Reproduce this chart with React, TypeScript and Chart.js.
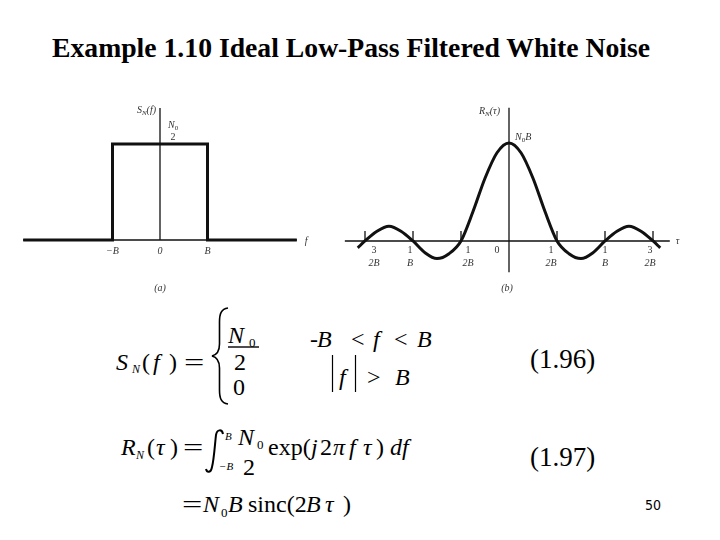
import React, { useEffect, useRef } from "react";
import { Chart, registerables } from "chart.js";
Chart.register(...registerables);

// ---------- data ----------
const LEFT_F = [-2.88, -1, -1, 1, 1, 2.88];
const LEFT_S = [0, 0, 1, 1, 0, 0];
const LEFT_TICKS = [-1, 0, 1];
const LEFT_TICK_LABELS = ["\u2212B", "0", "B"];

const RIGHT_TAU = [-3.15, -3, -2.75, -2.5, -2.25, -2, -1.75, -1.5, -1.25, -1, -0.75, -0.5, -0.25, 0, 0.25, 0.5, 0.75, 1, 1.25, 1.5, 1.75, 2, 2.25, 2.5, 2.75, 3, 3.15];
const RIGHT_R = [-0.07, 0, 0.1, 0.15, 0.1, 0, -0.12, -0.18, -0.13, 0, 0.3, 0.64, 0.9, 1, 0.9, 0.64, 0.3, 0, -0.13, -0.18, -0.12, 0, 0.1, 0.15, 0.1, 0, -0.07];
const RIGHT_TICKS = [-3, -2, -1, 1, 2, 3];
const RIGHT_TICK_NUM = ["3", "1", "1", "1", "1", "3"];
const RIGHT_TICK_DEN = ["2B", "B", "2B", "2B", "B", "2B"];

// ---------- styles ----------
const SERIF = '"Liberation Serif", "Times New Roman", serif';
const LABEL_NUDGE = [9, -3, 7, -6, 0, -3];
const INK = "#111";
const LBL = "#333";

type Part = { t: string; size: number; italic?: boolean; dy?: number };

function drawRich(ctx: CanvasRenderingContext2D, parts: Part[], x: number, y: number, align: "left" | "center" | "right") {
  let total = 0;
  const widths = parts.map((p) => {
    ctx.font = `${p.italic ? "italic " : ""}${p.size}px ${SERIF}`;
    const w = ctx.measureText(p.t).width;
    total += w;
    return w;
  });
  let cx = align === "left" ? x : align === "center" ? x - total / 2 : x - total;
  ctx.textAlign = "left";
  ctx.textBaseline = "alphabetic";
  parts.forEach((p, i) => {
    ctx.font = `${p.italic ? "italic " : ""}${p.size}px ${SERIF}`;
    ctx.fillText(p.t, cx, y + (p.dy || 0));
    cx += widths[i];
  });
}

const leftDecor = {
  id: "leftDecor",
  beforeDatasetsDraw(chart: any) {
    const { ctx, scales } = chart;
    const xs = scales.x, ys = scales.y;
    const x0 = xs.getPixelForValue(0), y0 = ys.getPixelForValue(0);
    ctx.save();
    ctx.strokeStyle = INK;
    ctx.lineWidth = 1.3;
    ctx.beginPath();
    ctx.moveTo(xs.getPixelForValue(LEFT_F[0]), y0);
    ctx.lineTo(xs.getPixelForValue(LEFT_F[LEFT_F.length - 1]), y0);
    ctx.moveTo(x0, y0);
    ctx.lineTo(x0, ys.getPixelForValue(ys.max));
    ctx.stroke();
    ctx.restore();
  },
  afterDatasetsDraw(chart: any) {
    const { ctx, scales } = chart;
    const xs = scales.x, ys = scales.y;
    const x0 = xs.getPixelForValue(0), y0 = ys.getPixelForValue(0);
    const yTop = ys.getPixelForValue(1);
    ctx.save();
    ctx.fillStyle = LBL;
    drawRich(ctx, [{ t: "S", size: 10, italic: true }, { t: "N", size: 7, italic: true, dy: 2 }, { t: "(f)", size: 10, italic: true }], x0 - 4, y0 - 127, "right");
    drawRich(ctx, [{ t: "N", size: 10, italic: true }, { t: "0", size: 7, dy: 2 }], x0 + 8, yTop - 16, "left");
    drawRich(ctx, [{ t: "2", size: 10 }], x0 + 13, yTop - 4, "center");
    LEFT_TICKS.forEach((v, i) => {
      drawRich(ctx, [{ t: LEFT_TICK_LABELS[i], size: 10, italic: true }], xs.getPixelForValue(v), y0 + 14, "center");
    });
    drawRich(ctx, [{ t: "f", size: 10, italic: true }], xs.getPixelForValue(LEFT_F[LEFT_F.length - 1]) + 8, y0 + 4, "left");
    drawRich(ctx, [{ t: "(a)", size: 10, italic: true }], x0, y0 + 51, "center");
    ctx.restore();
  },
};

const rightDecor = {
  id: "rightDecor",
  beforeDatasetsDraw(chart: any) {
    const { ctx, scales } = chart;
    const xs = scales.x, ys = scales.y;
    const x0 = xs.getPixelForValue(0), y0 = ys.getPixelForValue(0);
    ctx.save();
    ctx.strokeStyle = INK;
    ctx.lineWidth = 1.3;
    ctx.beginPath();
    ctx.moveTo(xs.getPixelForValue(-3.42), y0);
    ctx.lineTo(xs.getPixelForValue(3.35), y0);
    ctx.moveTo(x0, ys.getPixelForValue(ys.min));
    ctx.lineTo(x0, ys.getPixelForValue(ys.max));
    RIGHT_TICKS.forEach((v) => {
      const px = xs.getPixelForValue(v);
      ctx.moveTo(px, y0);
      ctx.lineTo(px, y0 - 10);
    });
    ctx.stroke();
    ctx.restore();
  },
  afterDatasetsDraw(chart: any) {
    const { ctx, scales } = chart;
    const xs = scales.x, ys = scales.y;
    const x0 = xs.getPixelForValue(0), y0 = ys.getPixelForValue(0);
    const yPeak = ys.getPixelForValue(1);
    ctx.save();
    ctx.fillStyle = LBL;
    drawRich(ctx, [{ t: "R", size: 10, italic: true }, { t: "N", size: 7, italic: true, dy: 2 }, { t: "(\u03c4)", size: 10, italic: true }], x0 - 30, y0 - 127, "left");
    drawRich(ctx, [{ t: "N", size: 10, italic: true }, { t: "0", size: 7, dy: 2 }, { t: "B", size: 10, italic: true }], x0 + 6, yPeak - 3, "left");
    RIGHT_TICKS.forEach((v, i) => {
      const px = xs.getPixelForValue(v) + LABEL_NUDGE[i];
      drawRich(ctx, [{ t: RIGHT_TICK_NUM[i], size: 10 }], px, y0 + 12, "center");
      drawRich(ctx, [{ t: RIGHT_TICK_DEN[i], size: 10, italic: true }], px, y0 + 25, "center");
    });
    drawRich(ctx, [{ t: "0", size: 10 }], x0 - 12, y0 + 12, "center");
    drawRich(ctx, [{ t: "\u03c4", size: 10, italic: true }], xs.getPixelForValue(3.35) + 6, y0 + 3, "left");
    drawRich(ctx, [{ t: "(b)", size: 10, italic: true }], x0 - 2, y0 + 50, "center");
    ctx.restore();
  },
};

function LeftPlot() {
  const ref = useRef<HTMLCanvasElement>(null);
  useEffect(() => {
    const chart = new Chart(ref.current as HTMLCanvasElement, {
      type: "scatter",
      data: {
        datasets: [
          {
            data: LEFT_F.map((f, i) => ({ x: f, y: LEFT_S[i] })),
            showLine: true,
            borderColor: INK,
            borderWidth: 3,
            pointRadius: 0,
            tension: 0,
            clip: false as any,
            borderJoinStyle: "miter",
          } as any,
        ],
      },
      options: {
        animation: false,
        responsive: false,
        devicePixelRatio: 1,
        layout: { padding: { left: 17.5, right: 37.5, top: 18, bottom: 70 } },
        plugins: { legend: { display: false }, tooltip: { enabled: false } },
        events: [],
        scales: {
          x: { type: "linear", min: -3, max: 3, display: false },
          y: { type: "linear", min: 0, max: 1.375, display: false },
        },
      },
      plugins: [leftDecor],
    });
    return () => chart.destroy();
  }, []);
  return <canvas ref={ref} width={340} height={220} style={{ position: "absolute", left: 0, top: 90 }} />;
}

function RightPlot() {
  const ref = useRef<HTMLCanvasElement>(null);
  useEffect(() => {
    const chart = new Chart(ref.current as HTMLCanvasElement, {
      type: "scatter",
      data: {
        datasets: [
          {
            data: RIGHT_TAU.map((t, i) => ({ x: t, y: RIGHT_R[i] })),
            showLine: true,
            borderColor: INK,
            borderWidth: 3,
            pointRadius: 0,
            cubicInterpolationMode: "monotone",
            clip: false as any,
          } as any,
        ],
      },
      options: {
        animation: false,
        responsive: false,
        devicePixelRatio: 1,
        layout: { padding: { left: 1, right: 43, top: 17.7, bottom: 37.66 } },
        plugins: { legend: { display: false }, tooltip: { enabled: false } },
        events: [],
        scales: {
          x: { type: "linear", min: -3.5, max: 3.5, display: false },
          y: { type: "linear", min: -0.32, max: 1.36, display: false },
        },
      },
      plugins: [rightDecor],
    });
    return () => chart.destroy();
  }, []);
  return <canvas ref={ref} width={380} height={220} style={{ position: "absolute", left: 340, top: 90 }} />;
}

function T(props: { x: number; y: number; s: number; it?: boolean; fam?: string; sx?: number; bold?: boolean; children: any }) {
  const { x, y, s, it, fam, sx, bold, children } = props;
  return (
    <span
      style={{
        position: "absolute",
        left: x,
        top: y - s * 0.8375,
        fontSize: s,
        lineHeight: `${s}px`,
        fontStyle: it ? "italic" : "normal",
        fontWeight: bold ? "bold" : "normal",
        fontFamily: fam || SERIF,
        whiteSpace: "nowrap",
        color: "#000",
        transform: sx ? `scaleX(${sx})` : undefined,
        transformOrigin: "left center",
      }}
    >
      {children}
    </span>
  );
}

export default function App() {
  return (
    <div style={{ position: "absolute", left: 0, top: 0, width: 720, height: 540, background: "#fff", overflow: "hidden" }}>
      <T x={52} y={57} s={27.7} bold>Example 1.10 Ideal Low-Pass Filtered White Noise</T>
      <LeftPlot />
      <RightPlot />

      {/* Eq 1.96 */}
      <T x={116} y={370} s={24} it>S</T>
      <T x={132} y={373} s={12} it>N</T>
      <T x={142} y={370} s={24}>(</T>
      <T x={153} y={370} s={24} it>f</T>
      <T x={169} y={370} s={24}>)</T>
      <T x={184} y={370} s={24} sx={1.5}>=</T>
      <T x={228} y={343} s={24} it>N</T>
      <T x={249} y={347} s={13}>0</T>
      <T x={234} y={370} s={24}>2</T>
      <T x={233} y={395} s={24}>0</T>
      <T x={310} y={347} s={24}>-</T>
      <T x={317} y={347} s={24} it>B</T>
      <T x={351} y={347} s={24}>&lt;</T>
      <T x={373} y={347} s={24} it>f</T>
      <T x={394} y={347} s={24}>&lt;</T>
      <T x={417} y={347} s={24} it>B</T>
      <T x={339} y={385} s={24} it>f</T>
      <T x={367} y={385} s={24}>&gt;</T>
      <T x={395} y={385} s={24} it>B</T>
      <T x={530} y={369} s={27}>(1.96)</T>

      {/* Eq 1.97 */}
      <T x={121} y={455} s={24} it>R</T>
      <T x={136} y={459} s={12} it>N</T>
      <T x={147} y={455} s={24}>(</T>
      <T x={156} y={455} s={24} it>{"\u03c4"}</T>
      <T x={170} y={455} s={24}>)</T>
      <T x={183} y={455} s={24} sx={1.5}>=</T>
      <T x={225} y={440} s={11} it>B</T>
      <T x={219} y={470} s={11} it>{"\u2212B"}</T>
      <T x={238} y={445} s={24} it>N</T>
      <T x={257} y={449} s={13}>0</T>
      <T x={243} y={475} s={24}>2</T>
      <T x={268} y={455} s={24}>exp(</T>
      <T x={311} y={455} s={24} it>j</T>
      <T x={320} y={455} s={24}>2</T>
      <T x={333} y={455} s={24} it>{"\u03c0"}</T>
      <T x={349} y={455} s={24} it>f</T>
      <T x={363} y={455} s={24} it>{"\u03c4"}</T>
      <T x={376} y={455} s={24}>)</T>
      <T x={390} y={455} s={24} it>df</T>
      <T x={530} y={467} s={27}>(1.97)</T>

      <T x={182} y={512} s={24} sx={1.5}>=</T>
      <T x={203} y={512} s={24} it>N</T>
      <T x={221} y={517} s={13}>0</T>
      <T x={228} y={512} s={24} it>B</T>
      <T x={248} y={512} s={24}>sinc(2</T>
      <T x={306} y={512} s={24} it>B</T>
      <T x={325} y={512} s={24} it>{"\u03c4"}</T>
      <T x={343} y={512} s={24}>)</T>

      <T x={645} y={510} s={14} fam={'"Liberation Sans Narrow", "DejaVu Sans Condensed", "Liberation Sans", sans-serif'}>50</T>

      <svg width={720} height={540} style={{ position: "absolute", left: 0, top: 0, pointerEvents: "none" }}>
        <path d="M 228 308 C 221 309 219.5 314 219.5 322 L 219.5 344 C 219.5 351 216 355 212 356 C 216 357 219.5 361 219.5 368 L 219.5 390 C 219.5 398 221 403 228 404" stroke="#000" strokeWidth={1.6} fill="none" />
        <line x1={228} y1={347} x2={259} y2={347} stroke="#000" strokeWidth={1.4} />
        <line x1={332.5} y1={355} x2={332.5} y2={392} stroke="#000" strokeWidth={1.2} />
        <line x1={355.5} y1={355} x2={355.5} y2={392} stroke="#000" strokeWidth={1.2} />
        <path d="M 223 434 C 222 429 217 429 216 435 C 215 443 214 460 212 467 C 211 473 207 473 206 469" stroke="#000" strokeWidth={2} fill="none" />
      </svg>
    </div>
  );
}
